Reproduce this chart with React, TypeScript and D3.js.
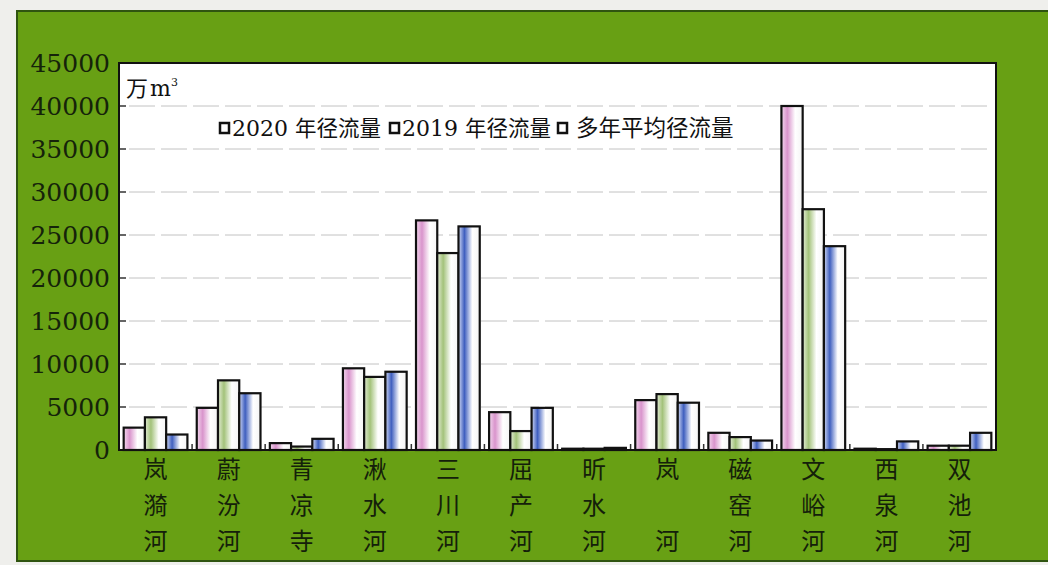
import React from 'react';
import * as d3 from 'd3';

// Categories (rivers)
const rivers = ['岚漪河', '蔚汾河', '青凉寺', '湫水河', '三川河', '屈产河', '昕水河', '岚河', '磁窑河', '文峪河', '西泉河', '双池河'];
const seriesYears = ['2020', '2019', ''];
const seriesNames = ['年径流量', '年径流量', '多年平均径流量'];

// Runoff values in 万m³
const runoff2020 = [2600, 4900, 800, 9500, 26700, 4400, 150, 5800, 2000, 40000, 150, 500];
const runoff2019 = [3800, 8100, 400, 8500, 22900, 2200, 150, 6500, 1500, 28000, 100, 500];
const runoffAvg = [1800, 6600, 1300, 9100, 26000, 4900, 250, 5500, 1100, 23700, 1000, 2000];

const yTicks = [0, 5000, 10000, 15000, 20000, 25000, 30000, 35000, 40000, 45000];

const W = 1048;
const H = 565;
const plot = { left: 119, right: 996, top: 63, bottom: 450 };

const serif = "'DejaVu Serif', 'Noto Sans CJK SC', serif";
const cjk = "'Noto Sans CJK SC', sans-serif";

const gradients = [
  { id: 'g2020', light: '#f3d8ee', strong: '#d994cc' },
  { id: 'g2019', light: '#e3ecd6', strong: '#a3c27a' },
  { id: 'gAvg', light: '#d2daf4', strong: '#3f5fbf' },
];

export default function App() {
  const series = [runoff2020, runoff2019, runoffAvg];

  const x = d3.scaleBand<string>()
    .domain(rivers)
    .range([plot.left, plot.right]);

  const inner = d3.scaleBand<number>()
    .domain([0, 1, 2])
    .range([0, x.bandwidth()])
    .paddingOuter(0.22);

  const y = d3.scaleLinear()
    .domain([0, 45000])
    .range([plot.bottom, plot.top]);

  const bandEdges = rivers.slice(1).map(r => x(r) as number);

  return (
    <svg
      width={W}
      height={H}
      style={{ position: 'absolute', left: 0, top: 0, display: 'block' }}
    >
      <defs>
        {gradients.map(g => (
          <linearGradient key={g.id} id={g.id} x1="0" x2="1" y1="0" y2="0">
            <stop offset="0%" stopColor={g.light} />
            <stop offset="28%" stopColor={g.strong} />
            <stop offset="65%" stopColor="#ffffff" />
            <stop offset="100%" stopColor="#f4f4f4" />
          </linearGradient>
        ))}
      </defs>

      {/* page and green panel */}
      <rect x={0} y={0} width={W} height={H} fill="#efefec" />
      <rect x={17} y={11} width={W} height={550} fill="#68a014" stroke="#2f5410" strokeWidth={2} />

      {/* plot area */}
      <rect
        x={plot.left}
        y={plot.top}
        width={plot.right - plot.left}
        height={plot.bottom - plot.top}
        fill="#ffffff"
      />

      {/* grid lines and y ticks */}
      {yTicks.slice(1, -1).map(t => (
        <g key={t}>
          <line
            x1={plot.left + 10}
            x2={plot.right - 4}
            y1={y(t)}
            y2={y(t)}
            stroke="#c2c2c2"
            strokeWidth={1}
            strokeDasharray="26,6"
          />
          <line x1={plot.left} x2={plot.left + 7} y1={y(t)} y2={y(t)} stroke="#333" strokeWidth={1.5} />
        </g>
      ))}

      {/* y tick labels */}
      {yTicks.map(t => (
        <text
          key={t}
          x={110}
          y={y(t)}
          dy="0.36em"
          textAnchor="end"
          fontFamily={serif}
          fontSize={25}
          fill="#15230a"
        >
          {t}
        </text>
      ))}

      {/* bars */}
      {rivers.map((r, i) => (
        <g key={r} transform={`translate(${x(r)},0)`}>
          {series.map((s, j) => (
            <rect
              key={j}
              x={inner(j) as number}
              y={y(s[i])}
              width={inner.bandwidth()}
              height={plot.bottom - y(s[i])}
              fill={`url(#${gradients[j].id})`}
              stroke="#111"
              strokeWidth={2.2}
            />
          ))}
        </g>
      ))}

      {/* category separator ticks */}
      {bandEdges.map((e, i) => (
        <line key={i} x1={e} x2={e} y1={plot.bottom} y2={plot.bottom - 6} stroke="#333" strokeWidth={1.5} />
      ))}

      {/* plot border */}
      <rect
        x={plot.left}
        y={plot.top}
        width={plot.right - plot.left}
        height={plot.bottom - plot.top}
        fill="none"
        stroke="#111"
        strokeWidth={2}
      />

      {/* unit label */}
      <text x={126} y={96} fontFamily={serif} fontSize={22} fill="#111">
        <tspan fontFamily={cjk}>万</tspan>
        <tspan dx={2}>m</tspan>
        <tspan dy={-10} fontSize={11}>3</tspan>
      </text>

      {/* legend */}
      <g transform="translate(219,128)" fontFamily={serif} fill="#111">
        {seriesNames.map((name, j) => {
          const offsets = [0, 170, 338];
          return (
            <g key={j} transform={`translate(${offsets[j]},0)`}>
              <rect x={1} y={-5} width={9} height={10} fill="#fff" stroke="#111" strokeWidth={2.5} />
              <text x={13} y={0} dy="0.36em" fontSize={22}>
                {seriesYears[j] && <tspan>{seriesYears[j] + ' '}</tspan>}
                <tspan
                  dx={seriesYears[j] ? 0 : 6}
                  fontFamily={cjk}
                  fontSize={seriesYears[j] ? 21.5 : 22.5}
                >
                  {name}
                </tspan>
              </text>
            </g>
          );
        })}
      </g>

      {/* category labels, stacked vertically */}
      {rivers.map(r => {
        const cx = (x(r) as number) + x.bandwidth() / 2;
        const chars = r.length === 2 ? [r[0], '', r[1]] : r.split('');
        return (
          <g key={r}>
            {chars.map((c, k) => (
              <text
                key={k}
                x={cx}
                y={470 + k * 36}
                dy="0.35em"
                textAnchor="middle"
                fontFamily={cjk}
                fontSize={24}
                fill="#14200a"
              >
                {c}
              </text>
            ))}
          </g>
        );
      })}
    </svg>
  );
}
